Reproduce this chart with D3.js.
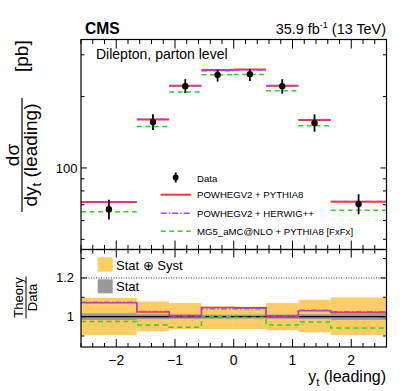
<!DOCTYPE html>
<html><head><meta charset="utf-8">
<script src="https://cdn.jsdelivr.net/npm/d3@7/dist/d3.min.js"></script>
<style>
html,body{margin:0;padding:0;background:#fff;}
svg{display:block;font-family:"Liberation Sans",Arial,sans-serif;}
</style></head>
<body>
<svg id="c" width="407" height="391"></svg>
<script>
// ---------- data ----------
const binEdges   = [-2.6, -1.65, -1.1, -0.55, 0, 0.55, 1.1, 1.65, 2.6];
const dataVals   = [67.0, 156.4, 221.2, 246.9, 248.6, 221.2, 154.8, 70.5];
const totUncUp   = [0.097, 0.078, 0.070, 0.052, 0.052, 0.070, 0.087, 0.099];
const totUncDown = [0.095, 0.075, 0.064, 0.064, 0.064, 0.070, 0.081, 0.095];
const statUnc    = [0.017, 0.013, 0.011, 0.010, 0.010, 0.011, 0.013, 0.017];
const predPythia = [71.8, 160.2, 222.3, 258.5, 259.8, 222.1, 159.4, 72.1];
const predHerwig = [72.0, 160.6, 221.9, 256.8, 258.8, 221.9, 159.9, 72.3];
const predMG5    = [65.3, 149.7, 209.0, 246.9, 247.9, 211.7, 150.5, 66.3];
const ratioPythia = [1.072, 1.024, 1.005, 1.047, 1.045, 1.004, 1.030, 1.022];
const ratioHerwig = [1.075, 1.027, 1.003, 1.040, 1.041, 1.003, 1.033, 1.025];
const ratioMG5    = [0.975, 0.957, 0.945, 1.000, 0.997, 0.957, 0.972, 0.941];
const xTickLabels = [-2, -1, 0, 1, 2];
const yTopMinor   = [50, 60, 70, 80, 90, 200, 300];
const yTopMajor   = [100];
const yRatioMajor = [1.0, 1.2];
const yRatioMinor = [0.9, 1.1, 1.3];
const legendNames = ["Data", "POWHEGV2 + PYTHIA8", "POWHEGV2 + HERWIG++", "MG5_aMC@NLO + PYTHIA8 [FxFx]"];

// ---------- style ----------
const cRed = "#e8393d", cPurple = "#a347ff", cGreen = "#2ad42a";
const cOrange = "#ffcc66", cGray = "#999999";

const svg = d3.select("#c");
const L = 81, R = 386.5;
const topT = 39.5, topB = 249.5, ratT = 249.5, ratB = 347;

const x = d3.scaleLinear().domain([-2.6, 2.6]).range([L, R]);
const y = d3.scaleLog().domain([45.3, 348]).range([topB, topT]);
const yr = d3.scaleLinear().domain([0.843, 1.347]).range([ratB, ratT]);

const bins = dataVals.map((v, i) => ({i, x0: binEdges[i], x1: binEdges[i+1], xc: (binEdges[i]+binEdges[i+1])/2, v}));

// ---------- ratio panel bands ----------
const gR = svg.append("g");
gR.selectAll("rect.syst").data(bins).join("rect")
  .attr("x", d => x(d.x0)).attr("width", d => x(d.x1) - x(d.x0))
  .attr("y", d => yr(1 + totUncUp[d.i]))
  .attr("height", d => yr(1 - totUncDown[d.i]) - yr(1 + totUncUp[d.i]))
  .attr("fill", cOrange);
gR.selectAll("rect.stat").data(bins).join("rect")
  .attr("x", d => x(d.x0)).attr("width", d => x(d.x1) - x(d.x0))
  .attr("y", d => yr(1 + statUnc[d.i]))
  .attr("height", d => yr(1 - statUnc[d.i]) - yr(1 + statUnc[d.i]))
  .attr("fill", cGray);
gR.append("line").attr("x1", L).attr("x2", R).attr("y1", yr(1)).attr("y2", yr(1))
  .attr("stroke", "#000").attr("stroke-width", 1.2);
gR.append("line").attr("x1", L).attr("x2", R).attr("y1", yr(1.2)).attr("y2", yr(1.2))
  .attr("stroke", "#333").attr("stroke-width", 1).attr("stroke-dasharray", "1,1.5");

function stepPts(arr) {
  const pts = [];
  arr.forEach((r, i) => { pts.push([binEdges[i], r]); pts.push([binEdges[i+1], r]); });
  return pts;
}
const stepLine = d3.line().x(d => x(d[0])).y(d => yr(d[1]));
gR.append("path").attr("d", stepLine(stepPts(ratioMG5))).attr("fill", "none")
  .attr("stroke", cGreen).attr("stroke-width", 1.5).attr("stroke-dasharray", "5,3.5");
gR.append("path").attr("d", stepLine(stepPts(ratioPythia))).attr("fill", "none")
  .attr("stroke", cRed).attr("stroke-width", 1.6);
gR.append("path").attr("d", stepLine(stepPts(ratioHerwig))).attr("fill", "none")
  .attr("stroke", cPurple).attr("stroke-width", 1.4).attr("stroke-dasharray", "6,2,1.5,2");

// ratio legend
gR.append("rect").attr("x", 97.7).attr("y", 257.3).attr("width", 15).attr("height", 14.4).attr("fill", cOrange);
gR.append("rect").attr("x", 97.7).attr("y", 279.3).attr("width", 15).attr("height", 14).attr("fill", cGray);
gR.append("text").attr("x", 116).attr("y", 269.5).attr("font-size", 13).text("Stat \u2295 Syst");
gR.append("text").attr("x", 116).attr("y", 290.8).attr("font-size", 13).text("Stat");

// ---------- top panel ----------
const gT = svg.append("g");
function hseg(arr, color, w, dash) {
  gT.selectAll(null).data(bins).join("line")
    .attr("x1", d => x(d.x0)).attr("x2", d => x(d.x1))
    .attr("y1", d => y(arr[d.i])).attr("y2", d => y(arr[d.i]))
    .attr("stroke", color).attr("stroke-width", w)
    .attr("stroke-dasharray", dash || null);
}
hseg(predMG5, cGreen, 1.5, "5,3.5");
hseg(predPythia, cRed, 2, null);
hseg(predHerwig, cPurple, 1.4, "6,2,1.5,2");

gT.selectAll("line.err").data(bins).join("line")
  .attr("x1", d => x(d.xc)).attr("x2", d => x(d.xc))
  .attr("y1", d => y(d.v * (1 + totUncUp[d.i]))).attr("y2", d => y(d.v * (1 - totUncDown[d.i])))
  .attr("stroke", "#000").attr("stroke-width", 1.8);
gT.selectAll("circle.pt").data(bins).join("circle")
  .attr("cx", d => x(d.xc)).attr("cy", d => y(d.v)).attr("r", 3.2).attr("fill", "#000");

// top legend
const lg = svg.append("g").attr("font-size", 9.6);
lg.append("line").attr("x1", 175.7).attr("x2", 175.7).attr("y1", 172.5).attr("y2", 182.5).attr("stroke", "#000").attr("stroke-width", 1.8);
lg.append("circle").attr("cx", 175.7).attr("cy", 177.5).attr("r", 3).attr("fill", "#000");
lg.append("line").attr("x1", 160.7).attr("x2", 190.7).attr("y1", 194.7).attr("y2", 194.7).attr("stroke", cRed).attr("stroke-width", 2);
lg.append("line").attr("x1", 160.7).attr("x2", 190.7).attr("y1", 213.3).attr("y2", 213.3).attr("stroke", cPurple).attr("stroke-width", 1.4).attr("stroke-dasharray", "6,2,1.5,2");
lg.append("line").attr("x1", 160.7).attr("x2", 190.7).attr("y1", 231.3).attr("y2", 231.3).attr("stroke", cGreen).attr("stroke-width", 1.5).attr("stroke-dasharray", "5,3.5");
[181.5, 198.2, 216.8, 234.8].forEach((yy, i) => {
  lg.append("text").attr("x", 197).attr("y", yy).text(legendNames[i]);
});

// ---------- frames & ticks ----------
const fr = svg.append("g").attr("stroke", "#000").attr("fill", "none");
fr.append("rect").attr("x", L).attr("y", topT).attr("width", R - L).attr("height", topB - topT).attr("stroke-width", 1.2);
fr.append("rect").attr("x", L).attr("y", ratT).attr("width", R - L).attr("height", ratB - ratT).attr("stroke-width", 1.2);

const xMinor = d3.range(-2.6, 2.61, 0.2).map(v => +v.toFixed(2)).filter(v => !xTickLabels.includes(Math.round(v*10)/10) );
function xTicks(yBase, dir, majLen, minLen) {
  xTickLabels.forEach(v => fr.append("line").attr("x1", x(v)).attr("x2", x(v)).attr("y1", yBase).attr("y2", yBase + dir*majLen).attr("stroke-width", 1));
  xMinor.forEach(v => fr.append("line").attr("x1", x(v)).attr("x2", x(v)).attr("y1", yBase).attr("y2", yBase + dir*minLen).attr("stroke-width", 1));
}
xTicks(topB, -1, 9, 4.5);
xTicks(topT, 1, 9, 4.5);
xTicks(ratB, -1, 8, 4);
xTicks(ratT, 1, 8, 4);

function yTicks(scale, majors, minors, majLen, minLen) {
  majors.forEach(v => {
    fr.append("line").attr("x1", L).attr("x2", L + majLen).attr("y1", scale(v)).attr("y2", scale(v)).attr("stroke-width", 1);
    fr.append("line").attr("x1", R).attr("x2", R - majLen).attr("y1", scale(v)).attr("y2", scale(v)).attr("stroke-width", 1);
  });
  minors.forEach(v => {
    fr.append("line").attr("x1", L).attr("x2", L + minLen).attr("y1", scale(v)).attr("y2", scale(v)).attr("stroke-width", 1);
    fr.append("line").attr("x1", R).attr("x2", R - minLen).attr("y1", scale(v)).attr("y2", scale(v)).attr("stroke-width", 1);
  });
}
yTicks(y, yTopMajor, yTopMinor, 6, 3.5);
yTicks(yr, yRatioMajor, yRatioMinor, 6, 3.5);

// tick labels
const tl = svg.append("g").attr("fill", "#000");
yTopMajor.forEach(v => tl.append("text").attr("x", 77.5).attr("y", y(v) + 4.6).attr("text-anchor", "end").attr("font-size", 13).text(v));
yRatioMajor.forEach(v => tl.append("text").attr("x", 74).attr("y", yr(v) + 4.4).attr("text-anchor", "end").attr("font-size", 13).text(v === 1 ? "1" : d3.format(".1f")(v)));
xTickLabels.forEach(v => tl.append("text").attr("x", x(v)).attr("y", 364.5).attr("text-anchor", "middle").attr("font-size", 14).text(v < 0 ? "\u2212" + Math.abs(v) : String(v)));

// ---------- titles ----------
svg.append("text").attr("x", 85).attr("y", 34).attr("font-size", 15.6).attr("font-weight", "bold").text("CMS");
const lumi = svg.append("text").attr("x", 386).attr("y", 34).attr("text-anchor", "end").attr("font-size", 14.4);
lumi.append("tspan").text("35.9 fb");
lumi.append("tspan").attr("font-size", 9).attr("dy", -6).text("-1");
lumi.append("tspan").attr("dy", 6).text(" (13 TeV)");
svg.append("text").attr("x", 96).attr("y", 59).attr("font-size", 14).text("Dilepton, parton level");

// x title
const xt = svg.append("text").attr("x", 386).attr("y", 382).attr("text-anchor", "end").attr("font-size", 16);
xt.append("tspan").text("y");
xt.append("tspan").attr("font-size", 11).attr("dy", 4).text("t");
xt.append("tspan").attr("dy", -4).text(" (leading)");

// y title top (rotated fraction)
const yt = svg.append("g").attr("transform", "translate(22,155) rotate(-90)").attr("font-size", 19);
yt.append("text").attr("x", 0).attr("y", -3).attr("text-anchor", "middle").text("d\u03c3");
yt.append("line").attr("x1", -57).attr("x2", 57).attr("y1", 0).attr("y2", 0).attr("stroke", "#000").attr("stroke-width", 1.2);
const den = yt.append("text").attr("x", 0).attr("y", 15).attr("text-anchor", "middle");
den.append("tspan").text("dy");
den.append("tspan").attr("font-size", 13).attr("dy", 4).text("t");
den.append("tspan").attr("dy", -4).text(" (leading)");
yt.append("text").attr("x", 83).attr("y", 6).text("[pb]");

// y title ratio
const yt2 = svg.append("g").attr("transform", "translate(26,297.5) rotate(-90)").attr("font-size", 13);
yt2.append("text").attr("x", 0).attr("y", -3).attr("text-anchor", "middle").text("Theory");
yt2.append("line").attr("x1", -21).attr("x2", 21).attr("y1", 0).attr("y2", 0).attr("stroke", "#000").attr("stroke-width", 1);
yt2.append("text").attr("x", 0).attr("y", 11).attr("text-anchor", "middle").text("Data");
</script>
</body></html>
